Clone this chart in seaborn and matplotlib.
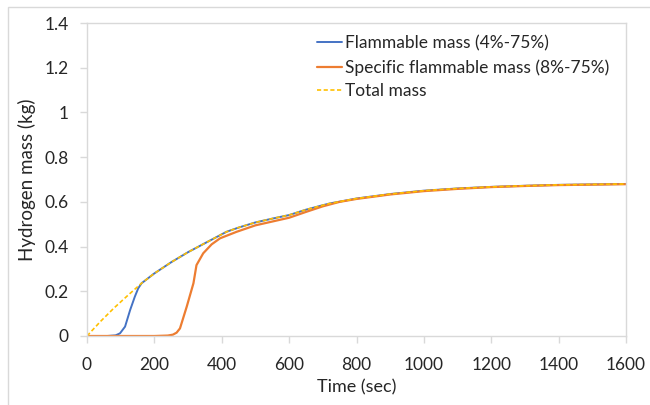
import matplotlib
matplotlib.use("Agg")
import matplotlib.pyplot as plt
import seaborn as sns
import pandas as pd

# values
total_t = [0, 40, 80, 120, 162, 200, 250, 300, 350, 414, 450, 500, 550, 600, 650, 700, 721, 800, 900, 1000, 1100, 1200, 1300, 1400, 1500, 1600]
total_m = [0, 0.065, 0.125, 0.18, 0.236, 0.28, 0.33, 0.375, 0.415, 0.466, 0.485, 0.508, 0.525, 0.541, 0.565, 0.585, 0.593, 0.615, 0.635, 0.65, 0.66, 0.667, 0.672, 0.676, 0.678, 0.68]

flam_t = [0, 60, 85, 98, 113, 128, 142, 152, 162, 200, 250, 300, 350, 414, 450, 500, 550, 600, 650, 700, 721, 800, 900, 1000, 1100, 1200, 1300, 1400, 1500, 1600]
flam_m = [0, 0, 0.003, 0.012, 0.042, 0.116, 0.176, 0.213, 0.236, 0.28, 0.33, 0.375, 0.415, 0.466, 0.485, 0.508, 0.525, 0.541, 0.565, 0.585, 0.593, 0.615, 0.635, 0.65, 0.66, 0.667, 0.672, 0.676, 0.678, 0.68]

spec_t = [0, 200, 240, 255, 266, 276, 296, 316, 325, 345, 370, 395, 444, 500, 550, 600, 650, 700, 750, 800, 900, 1000, 1100, 1200, 1300, 1400, 1500, 1600]
spec_m = [0, 0, 0.002, 0.006, 0.015, 0.034, 0.131, 0.236, 0.317, 0.37, 0.41, 0.437, 0.466, 0.495, 0.512, 0.529, 0.555, 0.58, 0.6, 0.613, 0.633, 0.648, 0.658, 0.666, 0.671, 0.675, 0.677, 0.679]

labels = ["Flammable mass (4%-75%)", "Specific flammable mass (8%-75%)", "Total mass"]
colors = ["#4472C4", "#ED7D31", "#FFC000"]

sns.set_style("white")
plt.rcParams["font.family"] = ["Lato", "DejaVu Sans"]

fig, ax = plt.subplots(figsize=(6.5, 4.05), dpi=100)
fig.subplots_adjust(left=87 / 650, right=626 / 650, bottom=1 - 336 / 405, top=1 - 23 / 405)

df1 = pd.DataFrame({"t": flam_t, "m": flam_m})
df2 = pd.DataFrame({"t": spec_t, "m": spec_m})
df3 = pd.DataFrame({"t": total_t, "m": total_m})

sns.lineplot(data=df1, x="t", y="m", ax=ax, color=colors[0], lw=1.4, label=labels[0])
sns.lineplot(data=df2, x="t", y="m", ax=ax, color=colors[1], lw=1.6, label=labels[1])
sns.lineplot(data=df3, x="t", y="m", ax=ax, color=colors[2], lw=1.2, ls=(0, (2.5, 1.5)), label=labels[2])

ax.set_xlim(0, 1600)
ax.set_ylim(0, 1.4)
ax.set_xticks(range(0, 1601, 200))
ax.set_yticks([0, 0.2, 0.4, 0.6, 0.8, 1, 1.2, 1.4])
ax.set_yticklabels(["0", "0.2", "0.4", "0.6", "0.8", "1", "1.2", "1.4"])
ax.set_xlabel("Time (sec)", fontsize=13, labelpad=5)
ax.set_ylabel("Hydrogen mass (kg)", fontsize=13.5, labelpad=6)
ax.tick_params(axis="both", labelsize=12.5, length=5, width=1, color="#D9D9D9", direction="out", bottom=True, left=True)
ax.tick_params(axis="x", pad=10)
ax.tick_params(axis="y", pad=8)
for s in ax.spines.values():
    s.set_color("#D9D9D9")
    s.set_linewidth(1)

ax.legend(loc="upper left", bbox_to_anchor=(0.405, 1.0), frameon=False, fontsize=12.5,
          handlelength=1.4, handletextpad=0.2, labelspacing=0.45, borderaxespad=0.3)

# outer chart border
fig.patches.append(plt.Rectangle((8 / 650, -0.1), 1.2, 1.1 - 7 / 405, transform=fig.transFigure,
                                 fill=False, edgecolor="#D9D9D9", lw=1))

fig.savefig("out.png", dpi=100)
